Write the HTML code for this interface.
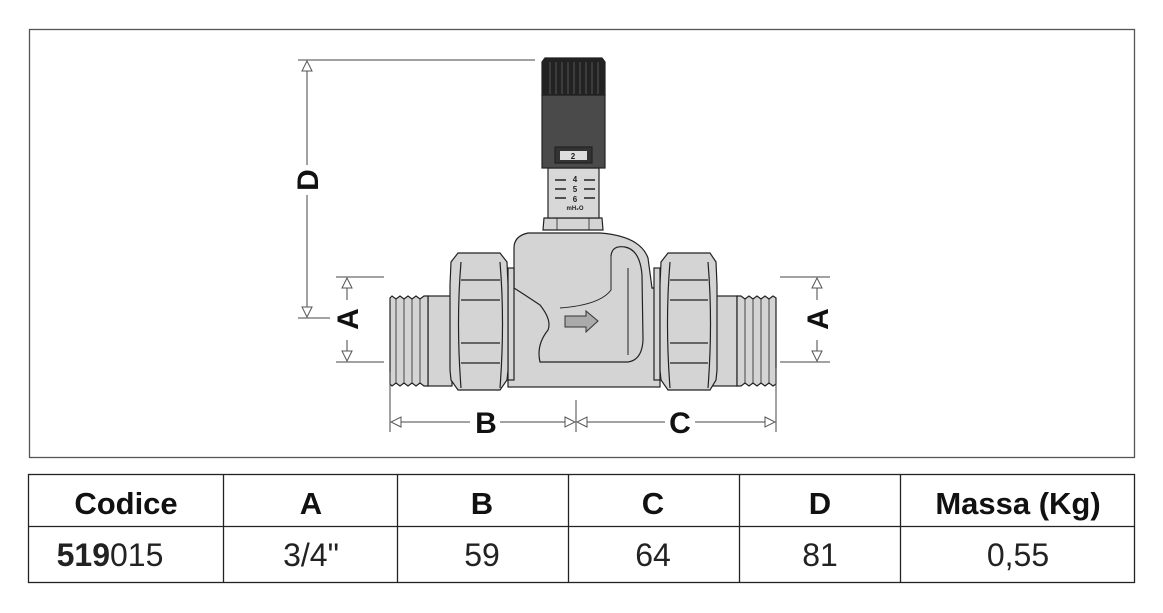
<!DOCTYPE html>
<html><head><meta charset="utf-8"><style>
html,body{margin:0;padding:0;background:#fff;}
body{width:1163px;height:613px;position:relative;overflow:hidden;font-family:"Liberation Sans",sans-serif;}
</style></head><body>
<svg width="1163" height="613" viewBox="0 0 1163 613" style="position:absolute;left:0;top:0">
<defs>
<marker id="ah" viewBox="0 0 12 12" refX="11" refY="6" markerWidth="12" markerHeight="12" orient="auto" markerUnits="userSpaceOnUse">
<path d="M1,1 L11,6 L1,11 Z" fill="#fff" stroke="#555" stroke-width="1"/></marker>
</defs>
<rect x="29.5" y="29.5" width="1105" height="428" fill="none" stroke="#555" stroke-width="1.3"/>

<g stroke="#222" stroke-width="1.2" fill="#d4d4d4">
<rect x="428" y="296" width="24" height="90"/>
<path d="M390,298 L392,296 L396,299 L400,296 L404,299 L408,296 L412,299 L416,296 L420,299 L424,296 L428,296 L428,386 L424,386 L420,383 L416,386 L412,383 L408,386 L404,383 L400,386 L396,383 L392,386 L390,384 Z"/>
<g stroke-width="0.8"><line x1="396" y1="299" x2="396" y2="383"/><line x1="404" y1="299" x2="404" y2="383"/><line x1="412" y1="299" x2="412" y2="383"/><line x1="420" y1="299" x2="420" y2="383"/></g>
<rect x="713" y="296" width="24" height="90"/>
<path d="M737,296 L741,296 L745,299 L749,296 L753,299 L757,296 L761,299 L765,296 L769,299 L773,296 L776,298 L776,384 L773,386 L769,383 L765,386 L761,383 L757,386 L753,383 L749,386 L745,383 L741,386 L737,386 Z"/>
<g stroke-width="0.8"><line x1="745" y1="299" x2="745" y2="383"/><line x1="753" y1="299" x2="753" y2="383"/><line x1="761" y1="299" x2="761" y2="383"/><line x1="769" y1="299" x2="769" y2="383"/></g>
<rect x="508" y="288" width="152" height="99"/>
<path d="M514,292 L514,248 Q514,236 528,233 L600,233 Q640,236 648,258 L652,292 Z" stroke="none"/>
<path d="M508,288 L514,288 L514,248 Q514,236 528,233 L600,233 Q640,236 648,258 L652,288 L660,288" fill="none"/>
<path d="M611,256 Q612,245 625,247 Q640,250 642,275 L643,340 Q642,360 628,362 L600,362 L540,362 Q536,345 548,330 Q552,320 540,305 Q525,295 514,288" fill="none"/>
<path d="M611,256 L611,290 Q600,305 560,308" fill="none" stroke-width="1"/>
<line x1="628" y1="268" x2="628" y2="355" stroke-width="1"/>
<path d="M544,218 L602,218 L603,230 L543,230 Z"/>
<line x1="557" y1="218" x2="557" y2="230" stroke-width="0.8"/><line x1="589" y1="218" x2="589" y2="230" stroke-width="0.8"/>
<rect x="548" y="168" width="51" height="50" fill="#d8d8d8"/>
<rect x="542" y="95" width="63" height="73" fill="#4a4a4a"/>
<path d="M545,58 L602,58 L605,62 L605,95 L542,95 L542,62 Z" fill="#222"/>
<g stroke="#555" stroke-width="1"><line x1="550" y1="62" x2="550" y2="94"/><line x1="556" y1="62" x2="556" y2="94"/><line x1="562" y1="62" x2="562" y2="94"/><line x1="568" y1="62" x2="568" y2="94"/><line x1="574" y1="62" x2="574" y2="94"/><line x1="580" y1="62" x2="580" y2="94"/><line x1="586" y1="62" x2="586" y2="94"/><line x1="592" y1="62" x2="592" y2="94"/><line x1="598" y1="62" x2="598" y2="94"/></g>
<rect x="555" y="147" width="37" height="16" fill="#333"/>
<rect x="560" y="151" width="27" height="9" fill="#ddd" stroke="none"/>
<rect x="508" y="268" width="6" height="112"/>
<rect x="654" y="268" width="6" height="112"/>
<path d="M458,253 L500,253 L507,262 L508,285 L508,370 L507,380 L500,390 L458,390 L451,380 L450,370 L450,285 L451,262 Z"/>
<line x1="461" y1="280" x2="500" y2="280"/><line x1="461" y1="363" x2="500" y2="363"/>
<line x1="461" y1="300" x2="500" y2="300"/><line x1="461" y1="343" x2="500" y2="343"/>
<path d="M461,262 Q456,322 461,388" fill="none"/><path d="M500,262 Q505,322 500,388" fill="none"/>
<path d="M668,253 L710,253 L716,262 L717,285 L717,370 L716,380 L710,390 L668,390 L661,380 L660,370 L660,285 L661,262 Z"/>
<line x1="670" y1="280" x2="708" y2="280"/><line x1="670" y1="363" x2="708" y2="363"/>
<line x1="670" y1="300" x2="708" y2="300"/><line x1="670" y1="343" x2="708" y2="343"/>
<path d="M670,262 Q665,322 670,388" fill="none"/><path d="M708,262 Q713,322 708,388" fill="none"/>
<path d="M565,316 L586,316 L586,311 L598,321 L586,332 L586,327 L565,327 Z" fill="#aaa" stroke="#333" stroke-width="1"/>
</g>
<g fill="#222" font-weight="bold" font-size="8" text-anchor="middle">
<text x="573" y="159">2</text>
<text x="575" y="182">4</text><text x="575" y="192">5</text><text x="575" y="202">6</text>
<text x="575" y="210" font-size="6">mH₂O</text>
</g>
<g stroke="#222" stroke-width="1.5"><line x1="555" y1="180" x2="566" y2="180"/><line x1="584" y1="180" x2="595" y2="180"/><line x1="555" y1="189" x2="566" y2="189"/><line x1="584" y1="189" x2="595" y2="189"/><line x1="555" y1="198" x2="566" y2="198"/><line x1="584" y1="198" x2="595" y2="198"/></g>

<g stroke="#444" stroke-width="1" fill="none">
<line x1="298" y1="60" x2="535" y2="60"/>
<line x1="298" y1="318" x2="330" y2="318"/>
<line x1="307" y1="165" x2="307" y2="61" marker-end="url(#ah)"/>
<line x1="307" y1="195" x2="307" y2="317" marker-end="url(#ah)"/>
<line x1="336" y1="277" x2="384" y2="277"/><line x1="336" y1="362" x2="384" y2="362"/>
<line x1="347" y1="300" x2="347" y2="278" marker-end="url(#ah)"/>
<line x1="347" y1="340" x2="347" y2="361" marker-end="url(#ah)"/>
<line x1="780" y1="277" x2="830" y2="277"/><line x1="780" y1="362" x2="830" y2="362"/>
<line x1="817" y1="300" x2="817" y2="278" marker-end="url(#ah)"/>
<line x1="817" y1="340" x2="817" y2="361" marker-end="url(#ah)"/>
<line x1="390" y1="372" x2="390" y2="432"/><line x1="776" y1="368" x2="776" y2="432"/><line x1="576" y1="400" x2="576" y2="432"/>
<line x1="470" y1="422" x2="391" y2="422" marker-end="url(#ah)"/>
<line x1="500" y1="422" x2="575" y2="422" marker-end="url(#ah)"/>
<line x1="665" y1="422" x2="577" y2="422" marker-end="url(#ah)"/>
<line x1="695" y1="422" x2="775" y2="422" marker-end="url(#ah)"/>
</g>
<g font-weight="bold" font-size="30" fill="#111" text-anchor="middle">
<text x="486" y="433">B</text><text x="680" y="433">C</text>
<text transform="translate(318,180) rotate(-90)">D</text>
<text transform="translate(358,319) rotate(-90)">A</text>
<text transform="translate(828,319) rotate(-90)">A</text>
</g>

<g stroke="#222" stroke-width="1.3" fill="none">
<rect x="28.5" y="474.5" width="1106" height="108"/>
<line x1="28" y1="526.5" x2="1135" y2="526.5"/>
<line x1="223.5" y1="474" x2="223.5" y2="583"/>
<line x1="397.5" y1="474" x2="397.5" y2="583"/>
<line x1="568.5" y1="474" x2="568.5" y2="583"/>
<line x1="739.5" y1="474" x2="739.5" y2="583"/>
<line x1="900.5" y1="474" x2="900.5" y2="583"/>
</g>
<g font-size="31" fill="#111" text-anchor="middle">
<g font-weight="bold"><text x="126" y="514">Codice</text><text x="311" y="514">A</text><text x="482" y="514">B</text><text x="653" y="514">C</text><text x="820" y="514">D</text><text x="1018" y="514">Massa (Kg)</text></g>
<g font-size="32" fill="#222"><text x="110" y="566"><tspan font-weight="bold">519</tspan>015</text><text x="311" y="566">3/4"</text><text x="482" y="566">59</text><text x="653" y="566">64</text><text x="820" y="566">81</text><text x="1018" y="566">0,55</text></g>
</g>
</svg>
</body></html>
